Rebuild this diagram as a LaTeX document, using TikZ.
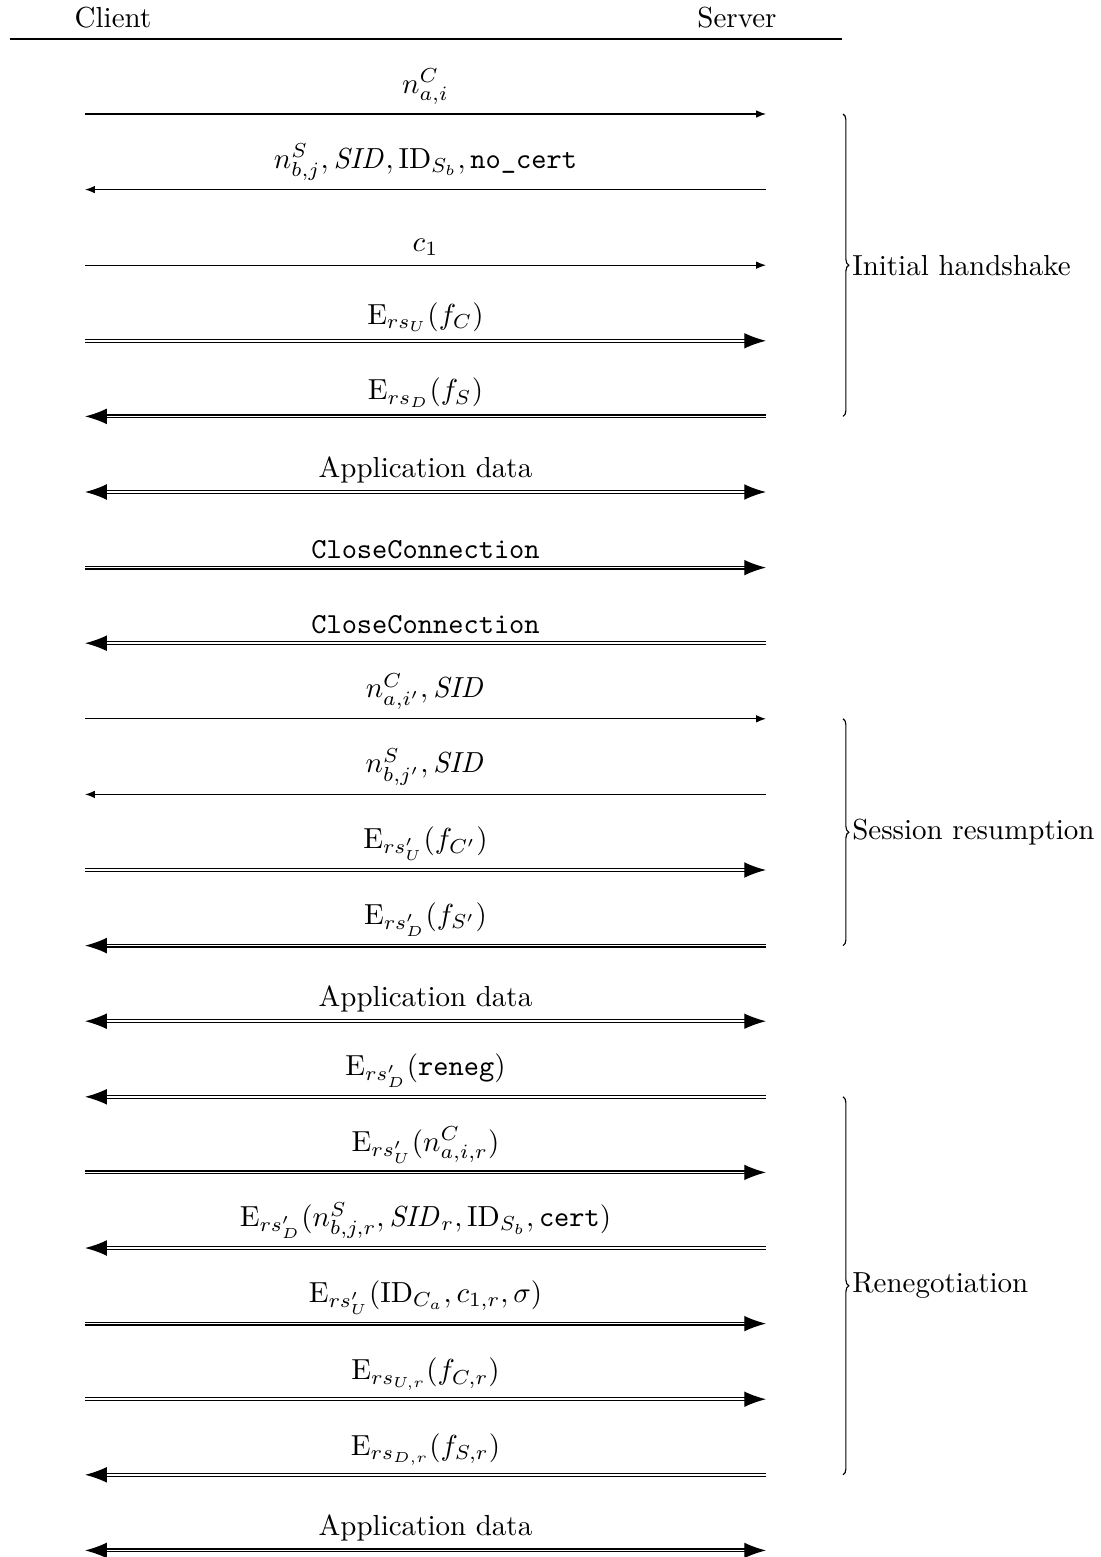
\documentclass[tikz,border=0pt]{standalone}
\usepackage{amsmath,amssymb}
\usepackage{tikz}
\usetikzlibrary{arrows.meta,decorations.pathreplacing}

\begin{document}
\begin{tikzpicture}[
  x=0.3448pt, y=-0.3448pt,
  sgl/.style={-{Latex[length=3.4pt,width=2.6pt]}},
  dbl/.style={double, -{Latex[length=7.5pt,width=5.4pt]}},
  dblboth/.style={double, {Latex[length=7.5pt,width=5.4pt]}-{Latex[length=7.5pt,width=5.4pt]}},
  lbl/.style={above=1pt, inner sep=2pt},
  grp/.style={decorate, decoration={brace, amplitude=2pt}},
  grplbl/.style={anchor=west, inner sep=1pt}]
\useasboundingbox (0,0) rectangle (1100,1557);
\node (cl) at (113,18) {Client};
\node (sv) at (737,18) {Server};
\coordinate (hl) at (10,39);
\coordinate (hr) at (842,39);
\draw (hl) -- (hr);
\foreach \k in {1,...,20} {
  \pgfmathsetmacro\yy{114+75.6*(\k-1)}
  \coordinate (c\k) at (85,\yy);
  \coordinate (s\k) at (766,\yy);
}
\coordinate (brx) at (843,0);
% initial handshake
\draw[sgl] (c1) -- node[lbl] {$n^C_{a,i}$} (s1);
\draw[sgl] (s2) -- node[lbl] {$n^S_{b,j}, \mathit{SID}, \mathrm{ID}_{S_b}, \texttt{no\_cert}$} (c2);
\draw[sgl] (c3) -- node[lbl] {$c_1$} (s3);
\draw[dbl] (c4) -- node[lbl] {$\mathrm{E}_{rs_U}(f_C)$} (s4);
\draw[dbl] (s5) -- node[lbl] {$\mathrm{E}_{rs_D}(f_S)$} (c5);
\draw[dblboth] (c6) -- node[lbl] {Application data} (s6);
\draw[dbl] (c7) -- node[lbl] {\texttt{CloseConnection}} (s7);
\draw[dbl] (s8) -- node[lbl] {\texttt{CloseConnection}} (c8);
% session resumption
\draw[sgl] (c9) -- node[lbl] {$n^C_{a,i'}, \mathit{SID}$} (s9);
\draw[sgl] (s10) -- node[lbl] {$n^S_{b,j'}, \mathit{SID}$} (c10);
\draw[dbl] (c11) -- node[lbl] {$\mathrm{E}_{rs'_U}(f_{C'})$} (s11);
\draw[dbl] (s12) -- node[lbl] {$\mathrm{E}_{rs'_D}(f_{S'})$} (c12);
\draw[dblboth] (c13) -- node[lbl] {Application data} (s13);
% renegotiation
\draw[dbl] (s14) -- node[lbl] {$\mathrm{E}_{rs'_D}(\texttt{reneg})$} (c14);
\draw[dbl] (c15) -- node[lbl] {$\mathrm{E}_{rs'_U}(n^C_{a,i,r})$} (s15);
\draw[dbl] (s16) -- node[lbl] {$\mathrm{E}_{rs'_D}(n^S_{b,j,r}, \mathit{SID}_r, \mathrm{ID}_{S_b}, \texttt{cert})$} (c16);
\draw[dbl] (c17) -- node[lbl] {$\mathrm{E}_{rs'_U}(\mathrm{ID}_{C_a}, c_{1,r}, \sigma)$} (s17);
\draw[dbl] (c18) -- node[lbl] {$\mathrm{E}_{rs_{U,r}}(f_{C,r})$} (s18);
\draw[dbl] (s19) -- node[lbl] {$\mathrm{E}_{rs_{D,r}}(f_{S,r})$} (c19);
\draw[dblboth] (c20) -- node[lbl] {Application data} (s20);
% braces
\draw[grp] (brx |- s1) -- node[grplbl, right=2pt] (ih) {Initial handshake} (brx |- s5);
\draw[grp] (brx |- s9) -- node[grplbl, right=2pt] (sr) {Session resumption} (brx |- s12);
\draw[grp] (brx |- s14) -- node[grplbl, right=2pt] (rn) {Renegotiation} (brx |- s19);
\end{tikzpicture}
\end{document}
